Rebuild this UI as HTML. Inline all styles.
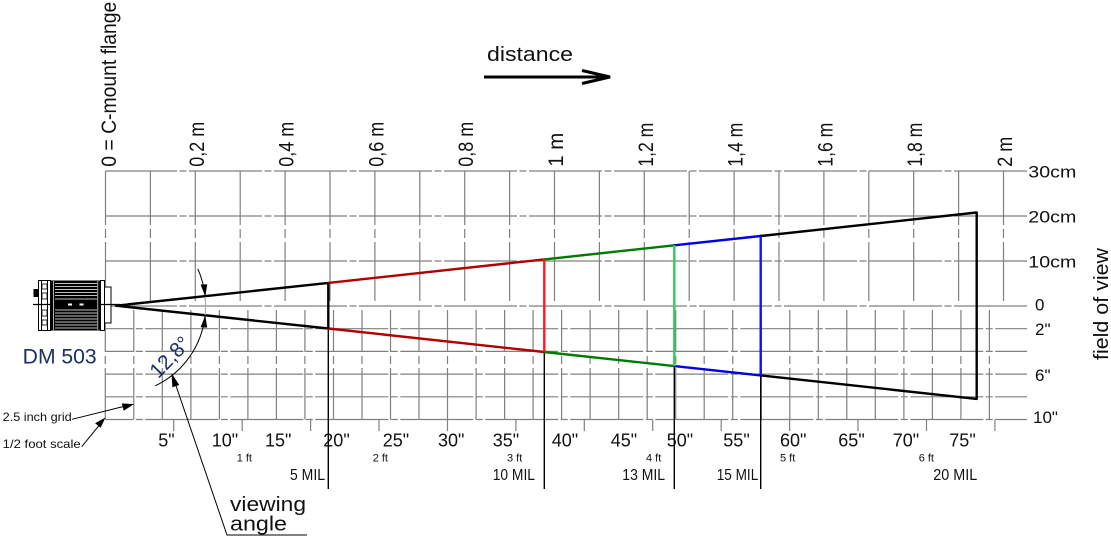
<!DOCTYPE html>
<html><head><meta charset="utf-8"><style>
html,body{margin:0;padding:0;background:#fff;}
svg{display:block;font-family:"Liberation Sans",sans-serif;}
</style></head><body>
<svg width="1111" height="537" viewBox="0 0 1111 537" xmlns="http://www.w3.org/2000/svg">
<rect width="1111" height="537" fill="#fff"/>

<!-- top grid verticals -->
<g stroke="#808080" stroke-width="1.2" stroke-dasharray="54 4 9 4 200">
<line x1="105.5" y1="171" x2="105.5" y2="301"/>
<line x1="150.4" y1="171" x2="150.4" y2="301"/>
<line x1="195.3" y1="171" x2="195.3" y2="301"/>
<line x1="240.2" y1="171" x2="240.2" y2="301"/>
<line x1="285.1" y1="171" x2="285.1" y2="301"/>
<line x1="330" y1="171" x2="330" y2="301"/>
<line x1="374.9" y1="171" x2="374.9" y2="301"/>
<line x1="419.8" y1="171" x2="419.8" y2="301"/>
<line x1="464.7" y1="171" x2="464.7" y2="301"/>
<line x1="509.6" y1="171" x2="509.6" y2="301"/>
<line x1="554.5" y1="171" x2="554.5" y2="301"/>
<line x1="599.4" y1="171" x2="599.4" y2="301"/>
<line x1="644.3" y1="171" x2="644.3" y2="301"/>
<line x1="689.2" y1="171" x2="689.2" y2="301"/>
<line x1="734.1" y1="171" x2="734.1" y2="301"/>
<line x1="779" y1="171" x2="779" y2="301"/>
<line x1="823.9" y1="171" x2="823.9" y2="301"/>
<line x1="868.8" y1="171" x2="868.8" y2="301"/>
<line x1="913.7" y1="171" x2="913.7" y2="301"/>
<line x1="958.6" y1="171" x2="958.6" y2="301"/>
<line x1="1003.5" y1="171" x2="1003.5" y2="301"/>
</g>

<!-- top grid horizontals -->
<g stroke="#808080" stroke-width="1.2" stroke-dasharray="73 2.5 7 2.5" stroke-dashoffset="1.5">
<line x1="105.5" y1="171" x2="1027" y2="171"/>
<line x1="105.5" y1="216" x2="1027" y2="216"/>
<line x1="105.5" y1="261" x2="1027" y2="261"/>
<line x1="105.5" y1="306" x2="1027" y2="306"/>
</g>

<!-- bottom grid horizontals -->
<g stroke="#808080" stroke-width="1.2" stroke-dasharray="73 2.5 7 2.5" stroke-dashoffset="-40">
<line x1="105.3" y1="328.7" x2="1027" y2="328.7"/>
<line x1="105.3" y1="351.4" x2="1027" y2="351.4"/>
<line x1="105.3" y1="374.1" x2="1027" y2="374.1"/>
<line x1="105.3" y1="396.8" x2="1027" y2="396.8"/>
<line x1="105.3" y1="419.5" x2="1027" y2="419.5"/>
</g>

<!-- bottom grid verticals -->
<g stroke="#808080" stroke-width="1.2" stroke-dasharray="42 4 8 4 200">
<line x1="105.3" y1="310" x2="105.3" y2="419.5"/>
<line x1="133.8" y1="310" x2="133.8" y2="419.5"/>
<line x1="162.3" y1="310" x2="162.3" y2="419.5"/>
<line x1="190.9" y1="310" x2="190.9" y2="419.5"/>
<line x1="219.4" y1="310" x2="219.4" y2="419.5"/>
<line x1="247.9" y1="310" x2="247.9" y2="419.5"/>
<line x1="276.4" y1="310" x2="276.4" y2="419.5"/>
<line x1="304.9" y1="310" x2="304.9" y2="419.5"/>
<line x1="333.5" y1="310" x2="333.5" y2="419.5"/>
<line x1="362" y1="310" x2="362" y2="419.5"/>
<line x1="390.5" y1="310" x2="390.5" y2="419.5"/>
<line x1="419" y1="310" x2="419" y2="419.5"/>
<line x1="447.5" y1="310" x2="447.5" y2="419.5"/>
<line x1="476.1" y1="310" x2="476.1" y2="419.5"/>
<line x1="504.6" y1="310" x2="504.6" y2="419.5"/>
<line x1="533.1" y1="310" x2="533.1" y2="419.5"/>
<line x1="561.6" y1="310" x2="561.6" y2="419.5"/>
<line x1="590.1" y1="310" x2="590.1" y2="419.5"/>
<line x1="618.7" y1="310" x2="618.7" y2="419.5"/>
<line x1="647.2" y1="310" x2="647.2" y2="419.5"/>
<line x1="675.7" y1="310" x2="675.7" y2="419.5"/>
<line x1="704.2" y1="310" x2="704.2" y2="419.5"/>
<line x1="732.7" y1="310" x2="732.7" y2="419.5"/>
<line x1="761.3" y1="310" x2="761.3" y2="419.5"/>
<line x1="789.8" y1="310" x2="789.8" y2="419.5"/>
<line x1="818.3" y1="310" x2="818.3" y2="419.5"/>
<line x1="846.8" y1="310" x2="846.8" y2="419.5"/>
<line x1="875.3" y1="310" x2="875.3" y2="419.5"/>
<line x1="903.9" y1="310" x2="903.9" y2="419.5"/>
<line x1="932.4" y1="310" x2="932.4" y2="419.5"/>
<line x1="960.9" y1="310" x2="960.9" y2="419.5"/>
<line x1="989.4" y1="310" x2="989.4" y2="419.5"/>
</g>

<!-- half-foot ticks -->
<g stroke="#808080" stroke-width="1.2">
<line x1="173.7" y1="419.5" x2="173.7" y2="431"/>
<line x1="242.2" y1="419.5" x2="242.2" y2="431"/>
<line x1="310.6" y1="419.5" x2="310.6" y2="431"/>
<line x1="379" y1="419.5" x2="379" y2="431"/>
<line x1="447.5" y1="419.5" x2="447.5" y2="431"/>
<line x1="515.9" y1="419.5" x2="515.9" y2="431"/>
<line x1="584.3" y1="419.5" x2="584.3" y2="431"/>
<line x1="652.7" y1="419.5" x2="652.7" y2="431"/>
<line x1="721.2" y1="419.5" x2="721.2" y2="431"/>
<line x1="789.6" y1="419.5" x2="789.6" y2="431"/>
<line x1="858" y1="419.5" x2="858" y2="431"/>
<line x1="926.5" y1="419.5" x2="926.5" y2="431"/>
<line x1="994.9" y1="419.5" x2="994.9" y2="431"/>
</g>

<!-- MIL lines -->
<g stroke="#000" stroke-width="1.4">
<line x1="328.3" y1="328.5" x2="328.3" y2="489"/>
<line x1="544.3" y1="352" x2="544.3" y2="489"/>
<line x1="674.3" y1="366" x2="674.3" y2="489"/>
<line x1="760.7" y1="375.4" x2="760.7" y2="489"/>
</g>

<!-- beam -->
<g stroke-width="2.4" stroke-linecap="round" fill="none">
<line x1="116" y1="305.7" x2="328.3" y2="282.9" stroke="#000"/>
<line x1="116" y1="305.7" x2="328.3" y2="328.5" stroke="#000"/>
<line x1="328.3" y1="282.9" x2="544.3" y2="259.4" stroke="#b00000"/>
<line x1="328.3" y1="328.5" x2="544.3" y2="352" stroke="#b00000"/>
<line x1="544.3" y1="259.4" x2="674.3" y2="245.3" stroke="#007a00"/>
<line x1="544.3" y1="352" x2="674.3" y2="366.1" stroke="#007a00"/>
<line x1="674.3" y1="245.3" x2="760.7" y2="236" stroke="#0000e0"/>
<line x1="674.3" y1="366.1" x2="760.7" y2="375.4" stroke="#0000e0"/>
<line x1="760.7" y1="236" x2="976.7" y2="212.5" stroke="#000"/>
<line x1="760.7" y1="375.4" x2="976.7" y2="398.9" stroke="#000"/>
<line x1="328.3" y1="282.9" x2="328.3" y2="328.5" stroke="#000" stroke-linecap="butt"/>
<line x1="544.3" y1="259.4" x2="544.3" y2="352" stroke="#ff1a1a" stroke-linecap="butt"/>
<line x1="674.3" y1="245.3" x2="674.3" y2="366.1" stroke="#33cc55" stroke-linecap="butt"/>
<line x1="760.7" y1="236" x2="760.7" y2="375.4" stroke="#1010ff" stroke-linecap="butt"/>
<line x1="976.7" y1="212.5" x2="976.7" y2="398.9" stroke="#000" stroke-linecap="butt"/>
</g>

<!-- angle arc -->
<path d="M197.8 268.8 A88 88 0 0 1 205.1 296.8" fill="none" stroke="#000" stroke-width="1"/>
<path d="M205.1 296.8 A88 88 0 0 1 205.1 315.2" fill="none" stroke="#aaa" stroke-width="1.2"/>
<path d="M205.1 315.2 A88 88 0 0 1 155.2 385.8" fill="none" stroke="#000" stroke-width="1"/>
<polygon points="205.3,296.6 200.6,284.6 207.2,284.2" fill="#000"/>
<polygon points="205.3,315.4 200.6,327.2 207.2,327.6" fill="#000"/>

<!-- viewing angle pointer -->
<polyline points="172,374 227,535 307,535" fill="none" stroke="#000" stroke-width="1"/>
<polygon points="171.5,373 172.4,387.3 179.2,385" fill="#000"/>

<!-- left annotation arrows -->
<line x1="72" y1="419.3" x2="124" y2="406.4" stroke="#000" stroke-width="1"/>
<polygon points="134,404 121.8,403.5 123.7,410.8" fill="#000"/>
<line x1="81.7" y1="446.7" x2="99" y2="425.6" stroke="#000" stroke-width="1"/>
<polygon points="105.5,417.5 95.1,423.2 100.6,427.7" fill="#000"/>

<!-- distance arrow -->
<line x1="484" y1="77" x2="607" y2="77" stroke="#000" stroke-width="3"/>
<polyline points="582,70.5 610,77 582,83.5" fill="none" stroke="#000" stroke-width="3" stroke-linejoin="miter"/>

<!-- camera -->
<g>
<rect x="33.5" y="289" width="5.5" height="8" fill="#000"/>
<rect x="38.5" y="280.5" width="12" height="50" fill="#fff" stroke="#000" stroke-width="1"/>
<line x1="41.5" y1="281" x2="41.5" y2="330" stroke="#000" stroke-width="1"/>
<line x1="47.5" y1="281" x2="47.5" y2="330" stroke="#000" stroke-width="1"/>
<rect x="42" y="284" width="5" height="5" fill="none" stroke="#000" stroke-width="0.8"/>
<rect x="42" y="293" width="5" height="6" fill="none" stroke="#000" stroke-width="0.8"/>
<rect x="42" y="310" width="5" height="6" fill="none" stroke="#000" stroke-width="0.8"/>
<rect x="42" y="320" width="5" height="5" fill="none" stroke="#000" stroke-width="0.8"/>
<rect x="50.5" y="280.5" width="50" height="50" fill="#000"/>
<g stroke="#fff" stroke-width="0.7">
<line x1="55" y1="283.5" x2="97" y2="283.5"/>
<line x1="55" y1="286.5" x2="97" y2="286.5"/>
<line x1="55" y1="289.5" x2="97" y2="289.5"/>
<line x1="55" y1="292.5" x2="97" y2="292.5"/>
<line x1="55" y1="295.5" x2="97" y2="295.5"/>
<line x1="55" y1="299" x2="97" y2="299"/>
<line x1="55" y1="310" x2="97" y2="310"/>
<line x1="55" y1="313" x2="97" y2="313"/>
<line x1="55" y1="316" x2="97" y2="316"/>
<line x1="55" y1="319" x2="97" y2="319"/>
<line x1="55" y1="322" x2="97" y2="322"/>
<line x1="55" y1="325" x2="97" y2="325"/>
<line x1="55" y1="328" x2="97" y2="328"/>
<line x1="53.5" y1="281" x2="53.5" y2="330"/>
<line x1="97.8" y1="281" x2="97.8" y2="330"/>
</g>
<rect x="68" y="303.5" width="4" height="2" fill="#fff"/>
<rect x="79.5" y="303.5" width="4" height="2" fill="#fff"/>
<rect x="100.5" y="280.5" width="4" height="50" fill="#fff" stroke="#000" stroke-width="1"/>
<rect x="104.5" y="287" width="6.5" height="36" fill="#fff" stroke="#000" stroke-width="1"/>
<line x1="33" y1="304.5" x2="50" y2="304.5" stroke="#000" stroke-width="1.2"/>
<line x1="100" y1="304.5" x2="120" y2="304.5" stroke="#000" stroke-width="1.2"/>
</g>

<!-- top labels -->
<g font-size="21" fill="#111">
<text transform="translate(116,166.7) rotate(-90)" textLength="165" lengthAdjust="spacingAndGlyphs">0 = C-mount flange</text>
<text transform="translate(204,166.7) rotate(-90)" textLength="45" lengthAdjust="spacingAndGlyphs">0,2 m</text>
<text transform="translate(293.6,166.7) rotate(-90)" textLength="45" lengthAdjust="spacingAndGlyphs">0,4 m</text>
<text transform="translate(383.4,166.7) rotate(-90)" textLength="45" lengthAdjust="spacingAndGlyphs">0,6 m</text>
<text transform="translate(473.2,166.7) rotate(-90)" textLength="45" lengthAdjust="spacingAndGlyphs">0,8 m</text>
<text transform="translate(563,166.7) rotate(-90)" textLength="34" lengthAdjust="spacingAndGlyphs">1 m</text>
<text transform="translate(652.8,166.7) rotate(-90)" textLength="44" lengthAdjust="spacingAndGlyphs">1,2 m</text>
<text transform="translate(742.6,166.7) rotate(-90)" textLength="44" lengthAdjust="spacingAndGlyphs">1,4 m</text>
<text transform="translate(832.4,166.7) rotate(-90)" textLength="44" lengthAdjust="spacingAndGlyphs">1,6 m</text>
<text transform="translate(922.2,166.7) rotate(-90)" textLength="44" lengthAdjust="spacingAndGlyphs">1,8 m</text>
<text transform="translate(1012,166.7) rotate(-90)" textLength="30" lengthAdjust="spacingAndGlyphs">2 m</text>
</g>

<text x="487" y="61" font-size="20" fill="#111" textLength="86" lengthAdjust="spacingAndGlyphs">distance</text>

<!-- right labels -->
<g font-size="17" fill="#111">
<text x="1028.3" y="177.5" textLength="48" lengthAdjust="spacingAndGlyphs">30cm</text>
<text x="1028.3" y="222.5" textLength="48" lengthAdjust="spacingAndGlyphs">20cm</text>
<text x="1028.3" y="267.5" textLength="48" lengthAdjust="spacingAndGlyphs">10cm</text>
<text x="1035" y="310.5">0</text>
<text x="1035" y="335">2"</text>
<text x="1035" y="381">6"</text>
<text x="1033" y="423">10"</text>
</g>
<text transform="translate(1108,360) rotate(-90)" font-size="20" fill="#111" textLength="112" lengthAdjust="spacingAndGlyphs">field of view</text>

<!-- inch labels -->
<g font-size="18" fill="#111">
<text x="158.3" y="446.7">5"</text>
<text x="211.7" y="446.7">10"</text>
<text x="265" y="446.7">15"</text>
<text x="323.3" y="446.7">20"</text>
<text x="382.7" y="446.7">25"</text>
<text x="438" y="446.7">30"</text>
<text x="492.7" y="446.7">35"</text>
<text x="551.7" y="446.7">40"</text>
<text x="610.7" y="446.7">45"</text>
<text x="666.7" y="446.7">50"</text>
<text x="723.3" y="446.7">55"</text>
<text x="780" y="446.7">60"</text>
<text x="838.3" y="446.7">65"</text>
<text x="892.7" y="446.7">70"</text>
<text x="949.3" y="446.7">75"</text>
</g>

<!-- ft labels -->
<g font-size="11" fill="#111">
<text x="236.7" y="461.5">1 ft</text>
<text x="372.7" y="461.5">2 ft</text>
<text x="507" y="461.5">3 ft</text>
<text x="646" y="461.5">4 ft</text>
<text x="780" y="461.5">5 ft</text>
<text x="918.7" y="461.5">6 ft</text>
</g>

<!-- MIL labels -->
<g font-size="16" fill="#111">
<text x="290" y="480" textLength="35" lengthAdjust="spacingAndGlyphs">5 MIL</text>
<text x="492.7" y="480" textLength="42.3" lengthAdjust="spacingAndGlyphs">10 MIL</text>
<text x="622.3" y="480" textLength="42.7" lengthAdjust="spacingAndGlyphs">13 MIL</text>
<text x="716.7" y="480" textLength="41.6" lengthAdjust="spacingAndGlyphs">15 MIL</text>
<text x="933.3" y="480" textLength="44" lengthAdjust="spacingAndGlyphs">20 MIL</text>
</g>

<!-- left labels -->
<text x="22.7" y="363.3" font-size="21" fill="#1c2f66" textLength="74" lengthAdjust="spacingAndGlyphs">DM 503</text>
<text x="2.7" y="421" font-size="12" fill="#111" textLength="69" lengthAdjust="spacingAndGlyphs">2.5 inch grid</text>
<text x="2.7" y="448" font-size="12" fill="#111" textLength="78" lengthAdjust="spacingAndGlyphs">1/2 foot scale</text>
<text transform="translate(175,362) rotate(-46)" text-anchor="middle" font-size="21" fill="#1c2f66" textLength="48" lengthAdjust="spacingAndGlyphs">12,8°</text>
<text x="230" y="511" font-size="20" fill="#111" textLength="76" lengthAdjust="spacingAndGlyphs">viewing</text>
<text x="230" y="530.5" font-size="20" fill="#111" textLength="57" lengthAdjust="spacingAndGlyphs">angle</text>
</svg>
</body></html>
